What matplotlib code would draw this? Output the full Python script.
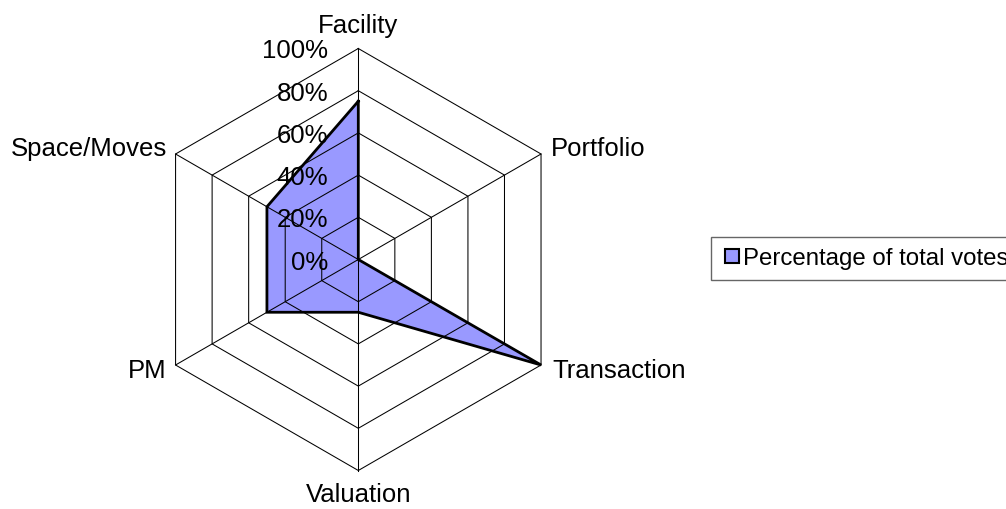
import numpy as np
import matplotlib.pyplot as plt
from matplotlib.lines import Line2D

plt.rcParams['font.family'] = ['Liberation Sans', 'DejaVu Sans']

categories = ['Facility', 'Portfolio', 'Transaction', 'Valuation', 'PM', 'Space/Moves']
values = [0.75, 0.0, 1.0, 0.25, 0.50, 0.50]
rings = [0.2, 0.4, 0.6, 0.8, 1.0]
tick_labels = ['0%', '20%', '40%', '60%', '80%', '100%']
series_name = 'Percentage of total votes'

W, H = 1006, 509
R = 211.0          # pixels for 100%
cx, cy = 358.3, 259.5  # centre in pixels (from top)
px = 1.0 / R

fig = plt.figure(figsize=(W / 100, H / 100), dpi=100)
ax = fig.add_axes([0, 0, 1, 1])
ax.set_xlim(-cx / R, (W - cx) / R)
ax.set_ylim(-(H - cy) / R, cy / R)
ax.axis('off')

n = len(categories)
angles = np.radians(90 - 360.0 / n * np.arange(n))
ux, uy = np.cos(angles), np.sin(angles)

# data polygon fill (grid shows through on top of it)
v = np.array(values)
ax.fill(ux * v, uy * v, facecolor='#9999ff', edgecolor='none', zorder=1)

# hexagon rings
for r in rings:
    ax.plot(np.append(ux, ux[0]) * r, np.append(uy, uy[0]) * r, color='black', lw=0.75, zorder=2)
# spokes
for i in range(n):
    ax.plot([0, ux[i]], [0, uy[i]], color='black', lw=0.75, zorder=2)

# polygon outline
ax.plot(np.append(ux * v, ux[0] * v[0]), np.append(uy * v, uy[0] * v[0]),
        color='black', lw=2.0, zorder=3, solid_joinstyle='miter')

# radial tick labels
for r, lab in zip([0] + rings, tick_labels):
    ax.text(-30 * px, r - 10 * px, lab, ha='right', va='baseline', fontsize=18.5, zorder=4)

# category labels (offsets in pixels)
offs = [(0, 16, 'center'), (10, -2.5, 'left'), (11, -12.5, 'left'),
        (0, -32, 'center'), (-8.6, -12.5, 'right'), (-8.6, -2, 'right')]
for i, (dx, dy, ha) in enumerate(offs):
    ax.text(ux[i] + dx * px, uy[i] + dy * px, categories[i], ha=ha, va='baseline', fontsize=18.5)

handle = Line2D([], [], linestyle='none', marker='s', markersize=9.5,
                markerfacecolor='#9999ff', markeredgecolor='black', markeredgewidth=1.5)
leg = fig.legend([handle], [series_name], loc='center left',
                 bbox_to_anchor=(711 / W, 1 - 258.5 / H), fontsize=17.3,
                 frameon=True, fancybox=False, shadow=False, borderaxespad=0,
                 borderpad=0.45, handlelength=0.85, handletextpad=0.05)
leg.get_frame().set_edgecolor('#404040')
leg.get_frame().set_linewidth(1.0)

fig.savefig('out.png', dpi=100)
